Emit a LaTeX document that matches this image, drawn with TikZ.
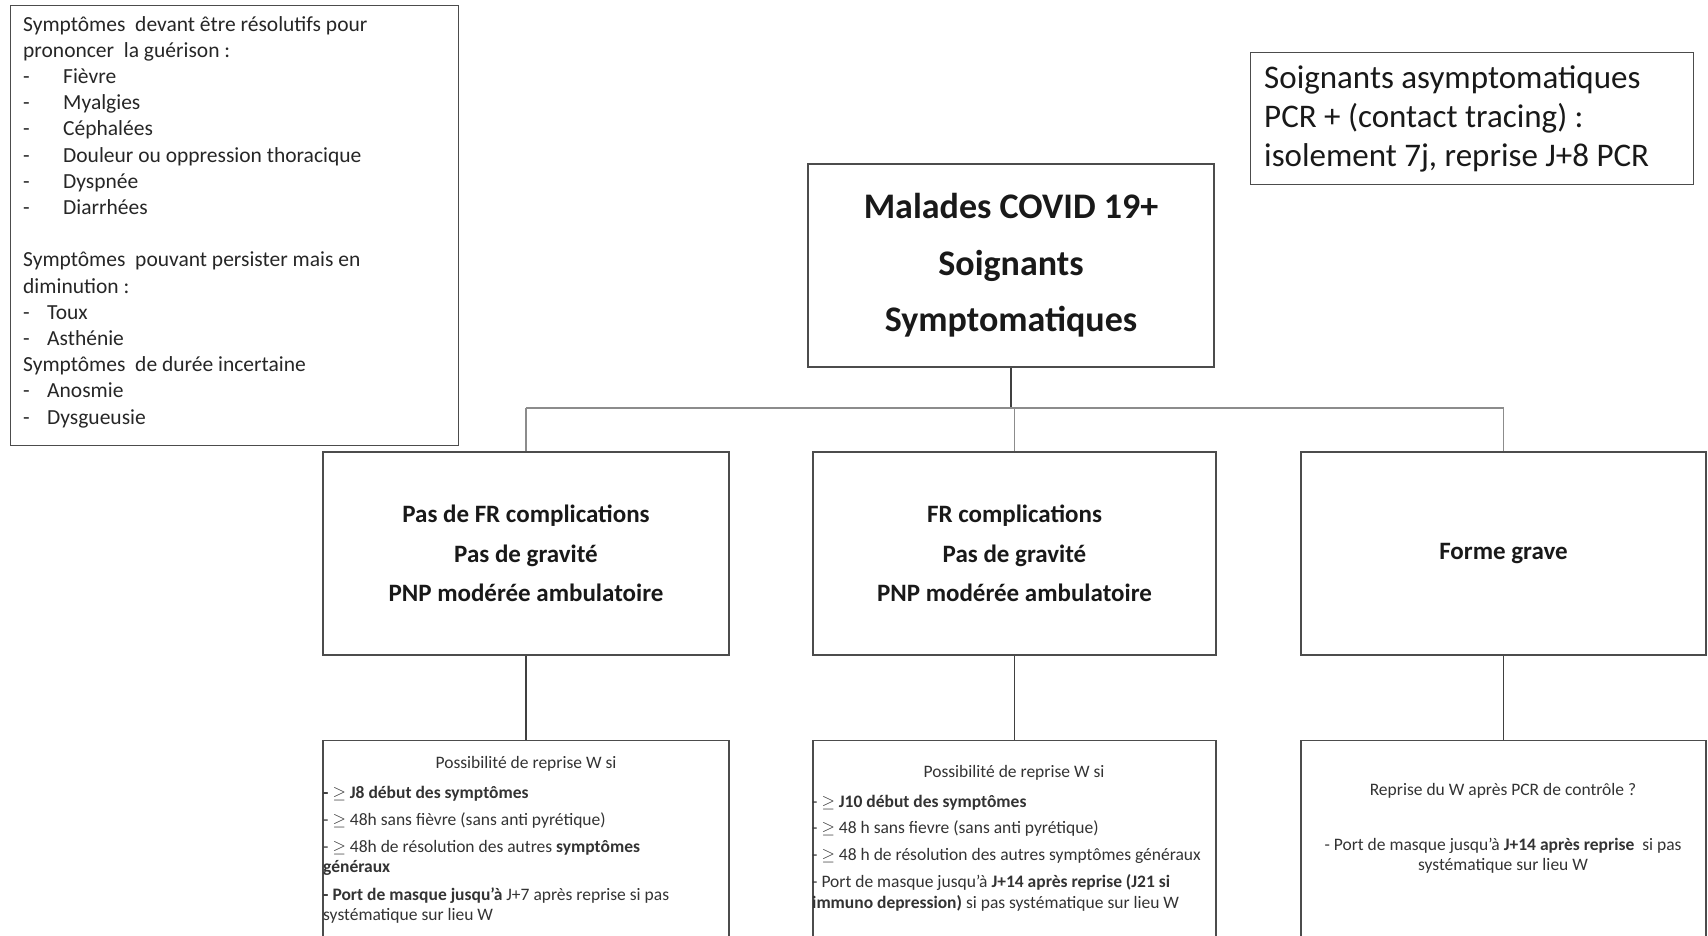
\documentclass[tikz,border=0pt]{standalone}
\usepackage{fontspec}
\setmainfont{Carlito}
\usetikzlibrary{calc}

\tikzset{
  box/.style={draw=black!70, line width=1.3pt, rectangle, inner sep=0pt, align=center, text=black!90},
  link/.style={draw=black!75, line width=1.3pt},
  branch/.style={draw=black!45, line width=1.3pt},
  headtext/.style={font=\bfseries\fontsize{36}{56.6}\selectfont},
  casetext/.style={font=\bfseries\fontsize{25}{39.5}\selectfont},
  notetext/.style={inner sep=0pt, align=left, text=black!85},
  small/.style={inner sep=0pt, font=\fontsize{17.5}{20}\selectfont, text=black!80},
}

\begin{document}
\begin{tikzpicture}[x=1pt,y=-1pt]
\useasboundingbox (0,0) rectangle (1708,935);
\clip (0,0) rectangle (1708,935);

% symptom note, top left (multi-line nodes are placed by the baseline of their last line)
\node[box, minimum width=448pt, minimum height=440pt, anchor=north west] (sym) at (10,5) {};
\node[notetext, anchor=base west, font=\fontsize{21.5}{26.2}\selectfont] (symtext) at (23,424)
{Symptômes\ \ devant être résolutifs pour\\
 prononcer\ \ la guérison :\\
 \makebox[40pt][l]{-}Fièvre\\
 \makebox[40pt][l]{-}Myalgies\\
 \makebox[40pt][l]{-}Céphalées\\
 \makebox[40pt][l]{-}Douleur ou oppression thoracique\\
 \makebox[40pt][l]{-}Dyspnée\\
 \makebox[40pt][l]{-}Diarrhées\\[26.2pt]
 Symptômes\ \ pouvant persister mais en\\
 diminution :\\
 \makebox[24pt][l]{-}Toux\\
 \makebox[24pt][l]{-}Asthénie\\
 Symptômes\ \ de durée incertaine\\
 \makebox[24pt][l]{-}Anosmie\\
 \makebox[24pt][l]{-}Dysgueusie};

% asymptomatic staff note, top right
\node[box, minimum width=443pt, minimum height=132pt, anchor=north west] (asym) at (1250,52) {};
\node[notetext, anchor=base west, font=\fontsize{33}{39}\selectfont, text=black!90] (asymtext) at (1264,166)
{Soignants asymptomatiques\\
 PCR + (contact tracing) :\\
 isolement 7j, reprise J+8 PCR};

% root
\node[box, headtext, minimum width=406pt, minimum height=203pt] (main) at (1011,265.5)
{Malades COVID 19+\\Soignants\\Symptomatiques};

% three clinical forms
\node[box, casetext, minimum width=406pt, minimum height=203pt] (low) at (526,553.5)
{Pas de FR complications\\Pas de gravité\\PNP modérée ambulatoire};
\node[box, casetext, minimum width=403pt, minimum height=203pt] (mod) at (1014.5,553.5)
{FR complications\\Pas de gravité\\PNP modérée ambulatoire};
\node[box, casetext, minimum width=405pt, minimum height=203pt] (sev) at (1503.5,553.5)
{Forme grave};

% return-to-work boxes
\node[box, minimum width=406pt, minimum height=260pt, anchor=north] (lowr) at (526,740) {};
\node[box, minimum width=403pt, minimum height=260pt, anchor=north] (modr) at (1014.5,740) {};
\node[box, minimum width=405pt, minimum height=260pt, anchor=north] (sevr) at (1503.5,740) {};

% connectors
\coordinate (fork) at (1011,408);
\draw[link] (main.south) -- (fork);
\draw[branch] (low.north |- fork) -- (sev.north |- fork);
\draw[branch] (low.north |- fork) -- (low.north);
\draw[branch] (mod.north |- fork) -- (mod.north);
\draw[branch] (sev.north |- fork) -- (sev.north);
\draw[link] (low.south) -- (lowr.north);
\draw[link] (mod.south) -- (modr.north);
\draw[link] (sev.south) -- (sevr.north);

% texts of the return-to-work boxes
\node[small, anchor=base] (lowrtitle) at (526,768) {Possibilité de reprise W si};
\node[small, anchor=base west, align=left] (lowrbody) at (323,920)
{\textbf{- $\geq$ J8 début des symptômes}\\[7pt]
 - $\geq$ 48h sans fièvre (sans anti pyrétique)\\[7pt]
 - $\geq$ 48h de résolution des autres \textbf{symptômes}\\
 \textbf{généraux}\\[8pt]
 \textbf{- Port de masque jusqu’à} J+7 après reprise si pas\\
 systématique sur lieu W};

\node[small, anchor=base] (modrtitle) at (1014,777) {Possibilité de reprise W si};
\node[small, anchor=base west, align=left] (modrbody) at (812,908)
{- $\geq$ \textbf{J10 début des symptômes}\\[6pt]
 - $\geq$ 48 h sans fievre (sans anti pyrétique)\\[7pt]
 - $\geq$ 48 h de résolution des autres symptômes généraux\\[7pt]
 - Port de masque jusqu’à \textbf{J+14 après reprise (J21 si}\\[1pt]
 \textbf{immuno depression)} si pas systématique sur lieu W};

\node[small, anchor=base] (sevrtitle) at (1503,795) {Reprise du W après PCR de contrôle ?};
\node[small, anchor=base, align=center] (sevrbody) at (1503,870)
{- Port de masque jusqu’à \textbf{J+14 après reprise}\ \ si pas\\
 systématique sur lieu W};
\end{tikzpicture}
\end{document}
